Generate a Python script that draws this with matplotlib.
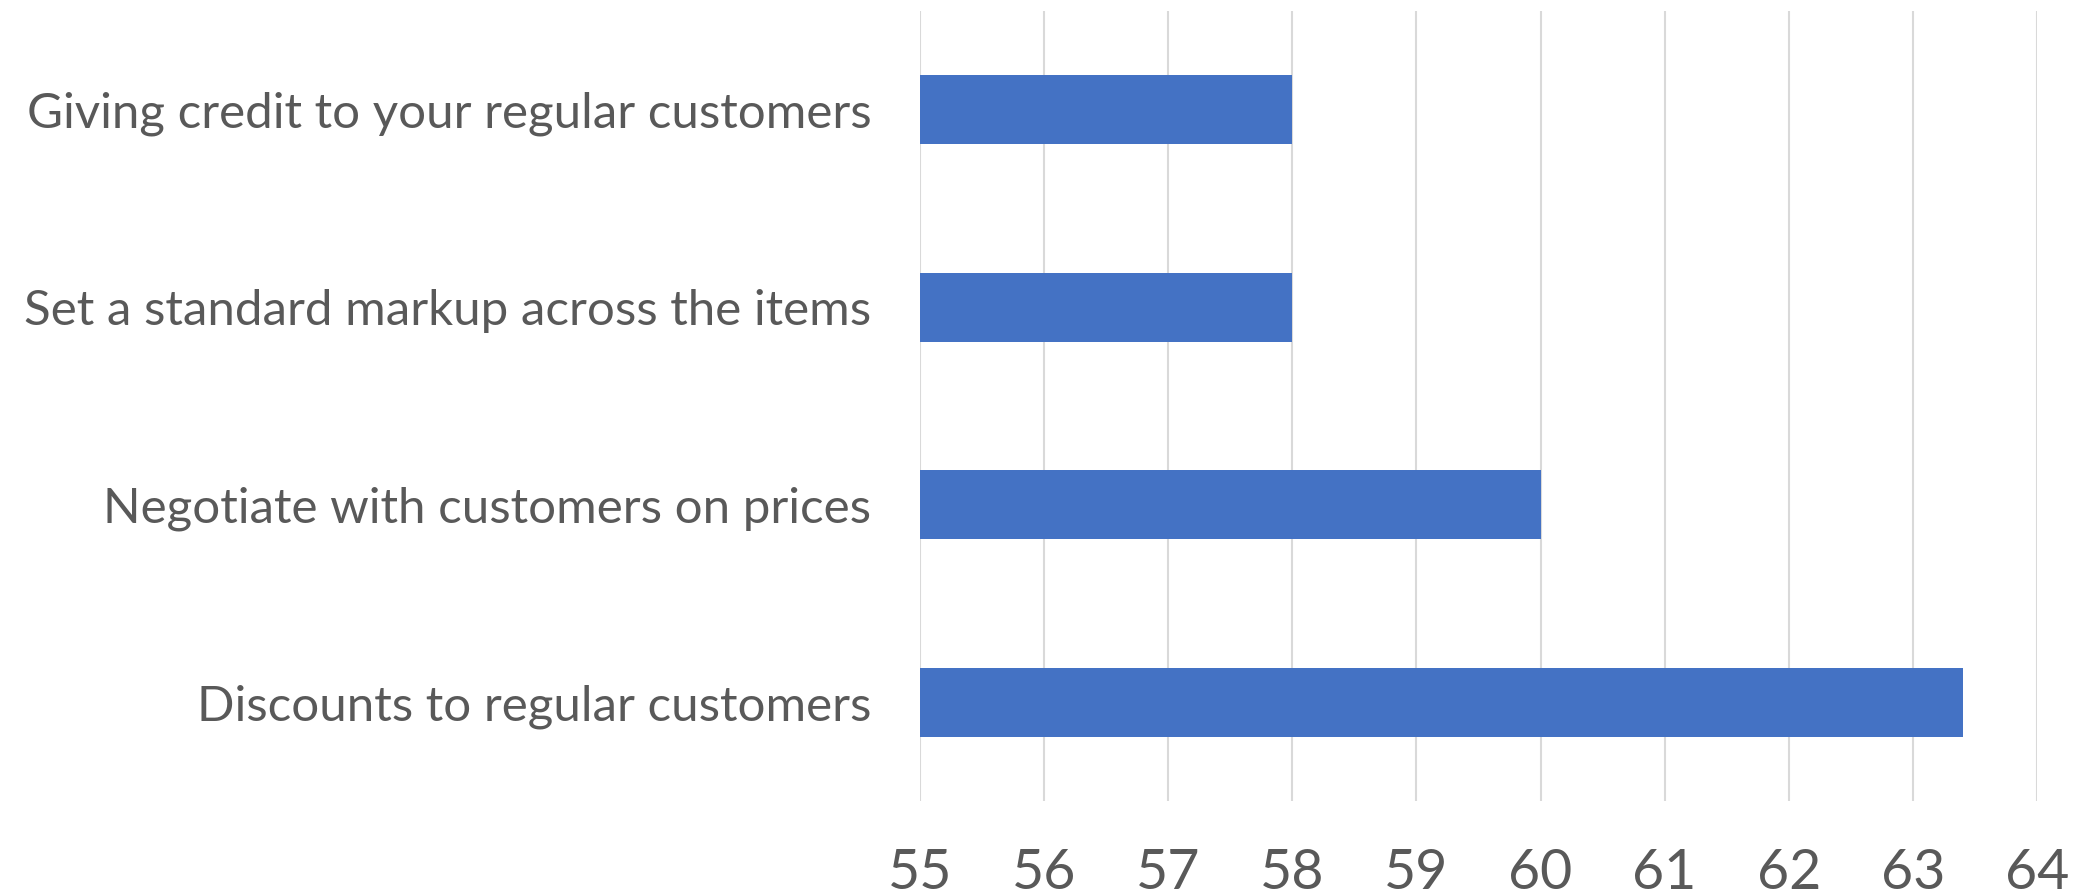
import matplotlib
matplotlib.use("Agg")
import matplotlib.pyplot as plt

categories = [
    "Discounts to regular customers",
    "Negotiate with customers on prices",
    "Set a standard markup across the items",
    "Giving credit to your regular customers",
]
values = [63.4, 60, 58, 58]
x_ticks = [55, 56, 57, 58, 59, 60, 61, 62, 63, 64]

text_color = "#595959"
plt.rcParams["font.family"] = ["Lato", "DejaVu Sans"]

dpi = 100
fig = plt.figure(figsize=(2084 / dpi, 896 / dpi), dpi=dpi)
ax = fig.add_axes([920 / 2084, 1 - 801 / 896, (2037 - 920) / 2084, (801 - 11) / 896])

base = x_ticks[0]
ax.barh(range(len(categories)), [v - base for v in values], left=base,
        height=0.35, color="#4472c4", zorder=3)

ax.set_xlim(x_ticks[0], x_ticks[-1])
ax.set_ylim(-0.5, len(categories) - 0.5)
ax.set_xticks(x_ticks)
ax.set_yticks(range(len(categories)))
ax.set_yticklabels(categories)
ax.grid(axis="x", color="#d9d9d9", linewidth=1.5, zorder=0)
for s in ax.spines.values():
    s.set_visible(False)
ax.tick_params(axis="both", length=0, colors=text_color)
ax.tick_params(axis="x", labelsize=40, pad=34)
ax.tick_params(axis="y", labelsize=35.5, pad=35)

fig.savefig("out.png", dpi=dpi)
